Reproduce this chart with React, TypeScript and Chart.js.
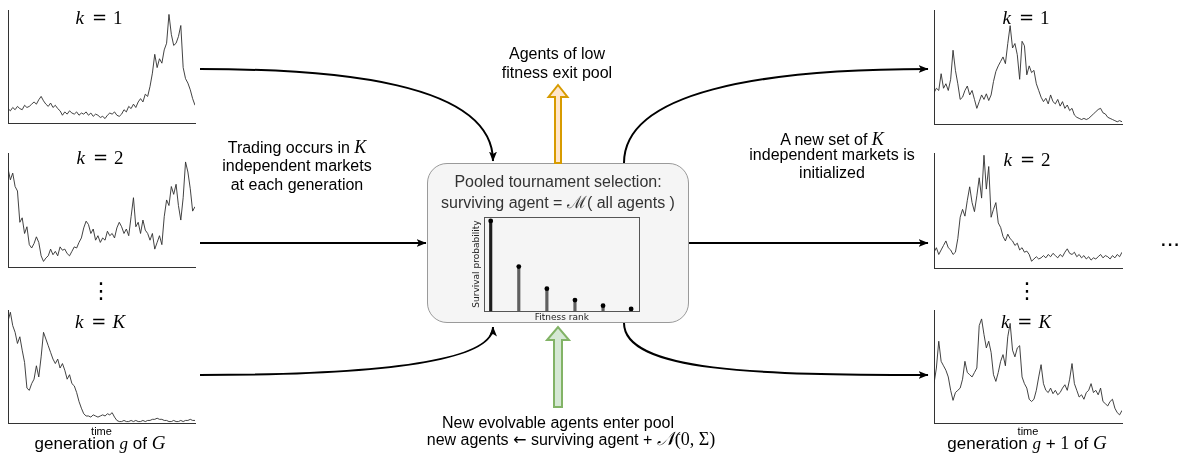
import React, { useEffect, useRef } from "react";
import { Chart, registerables } from "chart.js";

Chart.register(...registerables);

// ---- data: generation g (left column) ----
const genG_market1 = [13,11,14,12,15,13,12,16,14,15,17,19,17,21,24,20,17,15,18,14,16,13,11,7,10,8,11,9,8,10,7,9,8,10,7,9,6,8,7,5,6,4,7,9,8,10,7,6,8,12,10,15,13,17,14,19,22,19,26,24,33,45,62,50,58,54,66,72,98,80,70,72,78,88,50,40,36,30,22,16];
const genG_market2 = [88,78,84,72,68,40,44,30,36,20,17,21,27,22,10,5,8,10,16,11,14,10,18,15,16,12,10,14,18,17,22,26,35,41,38,30,34,24,28,22,26,24,32,28,30,26,35,40,36,30,34,28,45,62,36,40,30,42,33,30,24,30,16,22,28,20,45,60,55,72,65,74,55,42,62,94,85,70,50,54];
const genG_marketK = [92,100,88,82,72,78,66,55,32,30,36,40,52,42,60,82,76,70,64,58,54,58,50,54,48,40,44,36,34,28,20,14,9,7,7,6,8,7,6,7,8,7,9,8,10,6,3,2,2,3,2,2,3,2,3,2,2,3,2,3,3,4,4,5,4,4,3,3,2,2,3,2,2,3,2,3,3,4,3,3];

// ---- data: generation g+1 (right column) ----
const genH_market1 = [28,32,30,45,32,36,30,40,66,48,36,22,24,30,34,26,30,22,14,20,26,22,27,21,26,38,47,52,56,60,54,72,88,68,72,62,40,74,70,44,52,46,48,36,30,24,20,23,18,26,20,18,22,16,20,14,17,12,14,8,6,5,4,5,4,5,7,9,11,13,14,10,9,6,5,4,3,2,3,2];
const genH_market2 = [14,18,12,16,20,24,18,16,12,14,26,45,52,46,60,72,58,50,64,80,62,100,70,90,45,52,58,40,36,28,24,30,26,24,20,22,16,18,14,15,12,6,8,10,8,9,11,9,12,10,13,11,9,12,10,14,17,13,12,14,10,12,9,11,8,10,7,9,8,10,12,9,11,10,8,11,9,12,10,14];
const genH_marketK = [36,50,74,56,52,48,42,30,21,28,30,32,40,56,46,44,42,46,50,88,94,80,68,74,64,44,38,46,56,62,52,78,90,66,60,68,70,42,36,32,22,20,22,30,42,53,36,30,28,32,27,30,26,28,32,35,30,40,54,36,30,24,26,22,28,30,36,28,30,26,32,20,18,16,20,22,14,10,8,12];

const marketLabels = ["1", "2", "K"];

// ---- data: tournament selection inset ----
const fitnessRanks = [1, 2, 3, 4, 5, 6];
const survivalProbability = [0.958, 0.474, 0.239, 0.118, 0.059, 0.024];

const timeAxisLabel = "time";
const fitnessAxisLabel = "Fitness rank";
const survivalAxisLabel = "Survival probability";

const SANS = '"Liberation Sans", Arial, Helvetica, sans-serif';
const SERIF = '"Liberation Serif", "Times New Roman", serif';

type MarketProps = {
  values: number[];
  plotLeft: number;
  plotTop: number;
  plotWidth: number;
  plotHeight: number;
  withTime?: boolean;
};

function MarketChart({ values, plotLeft, plotTop, plotWidth, plotHeight, withTime }: MarketProps) {
  const ref = useRef<HTMLCanvasElement | null>(null);
  const titleH = withTime ? 15 : 1;
  const width = plotWidth + 2;
  const height = plotHeight + 1 + titleH;
  useEffect(() => {
    const hidden = {
      grid: { display: false, drawTicks: false },
      ticks: { display: false },
      border: { display: true, color: "#333", width: 1 },
    };
    const chart = new Chart(ref.current as HTMLCanvasElement, {
      type: "line",
      data: {
        datasets: [
          {
            data: values.map((v, i) => ({ x: i, y: v })),
            borderColor: "#2e2e2e",
            borderWidth: 0.9,
            pointRadius: 0,
            fill: false,
            tension: 0,
          },
        ],
      },
      options: {
        animation: false,
        responsive: false,
        events: [],
        layout: { padding: { top: 1, left: 1, right: 1, bottom: withTime ? 0 : 1 } },
        plugins: { legend: { display: false }, tooltip: { enabled: false } },
        scales: {
          x: {
            type: "linear",
            min: 0,
            max: values.length - 1,
            ...hidden,
            title: {
              display: !!withTime,
              text: timeAxisLabel,
              color: "#000",
              font: { family: SANS, size: 11 },
              padding: { top: 2, bottom: 0 },
            },
          },
          y: { type: "linear", min: 0, max: 102, ...hidden },
        },
      },
    } as any);
    return () => chart.destroy();
  }, [values, withTime]);
  return (
    <canvas
      ref={ref}
      width={width}
      height={height}
      style={{ position: "absolute", left: plotLeft - 1, top: plotTop - 1, width, height }}
    />
  );
}

function SurvivalChart() {
  const ref = useRef<HTMLCanvasElement | null>(null);
  useEffect(() => {
    const points = fitnessRanks.map((r, i) => ({ x: r, y: survivalProbability[i] }));
    const stemColors = fitnessRanks.map((_, i) => (i === 0 ? "#1e1e1e" : "#606060"));
    const frame = {
      grid: { display: false, drawTicks: false },
      ticks: { display: false },
      border: { display: true, color: "#555", width: 1 },
    };
    const titleFont = { family: '"DejaVu Sans", sans-serif', size: 9 };
    const chart = new Chart(ref.current as HTMLCanvasElement, {
      type: "bar",
      data: {
        datasets: [
          {
            type: "bar",
            data: points,
            backgroundColor: stemColors,
            barThickness: 2.5,
            xAxisID: "x",
            yAxisID: "y",
            order: 2,
          },
          {
            type: "scatter",
            data: points,
            pointRadius: 2.4,
            pointBackgroundColor: "#000",
            pointBorderWidth: 0,
            xAxisID: "x",
            yAxisID: "y",
            order: 1,
          },
        ],
      },
      options: {
        animation: false,
        responsive: false,
        events: [],
        layout: { padding: { top: 1, right: 1, bottom: 0, left: 0 } },
        plugins: { legend: { display: false }, tooltip: { enabled: false } },
        scales: {
          x: {
            type: "linear",
            position: "bottom",
            min: 0.79,
            max: 6.28,
            offset: false,
            ...frame,
            title: { display: true, text: fitnessAxisLabel, color: "#222", font: titleFont, padding: { top: 1, bottom: 0 } },
          },
          y: {
            type: "linear",
            position: "left",
            min: 0,
            max: 1,
            ...frame,
            title: { display: true, text: survivalAxisLabel, color: "#222", font: titleFont, padding: { top: 0, bottom: 3 } },
          },
          x2: { type: "linear", axis: "x", position: "top", offset: false, ...frame },
          y2: { type: "linear", axis: "y", position: "right", ...frame },
        },
      },
    } as any);
    return () => chart.destroy();
  }, []);
  return (
    <canvas
      ref={ref}
      width={172}
      height={110}
      style={{ position: "absolute", left: 471, top: 213, width: 172, height: 110 }}
    />
  );
}

function TextLine({
  cx,
  top,
  children,
  size = 16,
  lh = 18,
  color = "#000",
}: {
  cx: number;
  top: number;
  children: React.ReactNode;
  size?: number;
  lh?: number;
  color?: string;
}) {
  return (
    <div
      style={{
        position: "absolute",
        left: cx - 250,
        width: 500,
        top,
        textAlign: "center",
        fontFamily: SANS,
        fontSize: size,
        lineHeight: lh + "px",
        color,
        whiteSpace: "nowrap",
      }}
    >
      {children}
    </div>
  );
}

const mathI: React.CSSProperties = { fontFamily: SERIF, fontStyle: "italic", fontSize: 17 };
const mathR: React.CSSProperties = { fontFamily: SERIF, fontSize: 18 };

function KLabel({ cx, top, value }: { cx: number; top: number; value: string }) {
  const isSym = value === "K";
  return (
    <div
      style={{
        position: "absolute",
        left: cx - 60,
        width: 120,
        top,
        textAlign: "center",
        fontFamily: SERIF,
        fontSize: 19,
        lineHeight: "18px",
        whiteSpace: "nowrap",
        color: "#000",
      }}
    >
      <span style={{ fontStyle: "italic" }}>k</span>
      <span style={{ fontFamily: '"DejaVu Serif", serif', fontSize: 18, margin: "0 6px 0 8px" }}>=</span>
      <span style={{ fontStyle: isSym ? "italic" : "normal" }}>{value}</span>
    </div>
  );
}

export default function App() {
  const L = { left: 8, width: 187 };
  const R = { left: 934, width: 188 };
  return (
    <div
      style={{
        position: "absolute",
        left: 0,
        top: 0,
        width: 1182,
        height: 460,
        background: "#fff",
        overflow: "hidden",
        fontFamily: SANS,
      }}
    >
      {/* central pool box */}
      <div
        style={{
          position: "absolute",
          left: 427,
          top: 163,
          width: 262,
          height: 160,
          boxSizing: "border-box",
          border: "1px solid #9a9a9a",
          borderRadius: 20,
          background: "#f5f5f5",
        }}
      />

      {/* market charts */}
      <MarketChart values={genG_market1} plotLeft={L.left} plotTop={10} plotWidth={L.width} plotHeight={113} />
      <MarketChart values={genG_market2} plotLeft={L.left} plotTop={153} plotWidth={L.width} plotHeight={114} />
      <MarketChart values={genG_marketK} plotLeft={L.left} plotTop={310} plotWidth={L.width} plotHeight={114} withTime />
      <MarketChart values={genH_market1} plotLeft={R.left} plotTop={10} plotWidth={R.width} plotHeight={114} />
      <MarketChart values={genH_market2} plotLeft={R.left} plotTop={153} plotWidth={R.width} plotHeight={115} />
      <MarketChart values={genH_marketK} plotLeft={R.left} plotTop={310} plotWidth={R.width} plotHeight={114} withTime />

      <SurvivalChart />

      {/* arrows */}
      <svg
        width={1182}
        height={460}
        style={{ position: "absolute", left: 0, top: 0, pointerEvents: "none" }}
      >
        <defs>
          <marker
            id="ah"
            viewBox="0 0 10 8"
            refX="9.5"
            refY="4"
            markerWidth="10"
            markerHeight="8"
            markerUnits="userSpaceOnUse"
            orient="auto"
          >
            <path d="M0,0 L10,4 L0,8 L2.5,4 z" fill="#000" />
          </marker>
        </defs>
        <g fill="none" stroke="#000" strokeWidth={2}>
          <path d="M200,69 C335,69 493,82 493,161" markerEnd="url(#ah)" />
          <path d="M200,243 L426,243" markerEnd="url(#ah)" />
          <path d="M200,375 C330,375 493,368 493,327" markerEnd="url(#ah)" />
          <path d="M624,163 C624,92 760,69 928,69" markerEnd="url(#ah)" />
          <path d="M689,243 L928,243" markerEnd="url(#ah)" />
          <path d="M624,323 C624,372 760,375 928,375" markerEnd="url(#ah)" />
        </g>
        <polygon
          points="555,163 555,97 548.5,97 558,85 567.5,97 561,97 561,163"
          fill="#ffe6cc"
          stroke="#d79b00"
          strokeWidth={2}
          strokeLinejoin="miter"
        />
        <polygon
          points="554,407 554,340 547,340 558,327 569,340 562,340 562,407"
          fill="#d5e8d4"
          stroke="#82b366"
          strokeWidth={2}
          strokeLinejoin="miter"
        />
      </svg>

      {/* k labels */}
      <KLabel cx={99} top={9} value={marketLabels[0]} />
      <KLabel cx={100} top={149} value={marketLabels[1]} />
      <KLabel cx={100} top={313} value={marketLabels[2]} />
      <KLabel cx={1026} top={9} value={marketLabels[0]} />
      <KLabel cx={1027} top={151} value={marketLabels[1]} />
      <KLabel cx={1026} top={313} value={marketLabels[2]} />

      {/* vertical ellipses */}
      <div style={{ position: "absolute", left: 90, width: 20, top: 280, textAlign: "center", fontFamily: '"DejaVu Sans", sans-serif', fontSize: 22, lineHeight: "22px" }}>⋮</div>
      <div style={{ position: "absolute", left: 1016, width: 20, top: 280, textAlign: "center", fontFamily: '"DejaVu Sans", sans-serif', fontSize: 22, lineHeight: "22px" }}>⋮</div>
      <div style={{ position: "absolute", left: 1160, top: 226, fontFamily: SANS, fontSize: 24, lineHeight: "24px" }}>...</div>

      {/* generation captions */}
      <TextLine cx={100} top={434} size={17}>
        generation <span style={mathI}>g</span> of <span style={{ ...mathI, fontSize: 19 }}>G</span>
      </TextLine>
      <TextLine cx={1027} top={434} size={17}>
        generation <span style={mathI}>g</span> + <span style={mathR}>1</span> of <span style={{ ...mathI, fontSize: 19 }}>G</span>
      </TextLine>

      {/* annotations */}
      <TextLine cx={557} top={44.5}>Agents of low</TextLine>
      <TextLine cx={557} top={64}>fitness exit pool</TextLine>

      <TextLine cx={297} top={138}>
        Trading occurs in <span style={{ ...mathI, fontSize: 18 }}>K</span>
      </TextLine>
      <TextLine cx={297} top={156.5}>independent markets</TextLine>
      <TextLine cx={297} top={175.5}>at each generation</TextLine>

      <TextLine cx={832} top={129.5}>
        A new set of <span style={{ ...mathI, fontSize: 18 }}>K</span>
      </TextLine>
      <TextLine cx={832} top={146}>independent markets is</TextLine>
      <TextLine cx={832} top={163.5}>initialized</TextLine>

      <TextLine cx={558} top={173} color="#333">Pooled tournament selection:</TextLine>
      <TextLine cx={558} top={193} color="#333">
        surviving agent = <span style={{ fontFamily: '"DejaVu Serif", serif', fontSize: 17 }}>ℳ</span>( all agents )
      </TextLine>

      <TextLine cx={558} top={414}>New evolvable agents enter pool</TextLine>
      <TextLine cx={571} top={429.5}>
        new agents <span style={{ fontFamily: '"DejaVu Sans", sans-serif', fontSize: 16 }}>←</span> surviving agent +{" "}
        <span style={{ ...mathI, fontSize: 19 }}>𝒩</span>
        <span style={mathR}>(0, Σ)</span>
      </TextLine>
    </div>
  );
}
